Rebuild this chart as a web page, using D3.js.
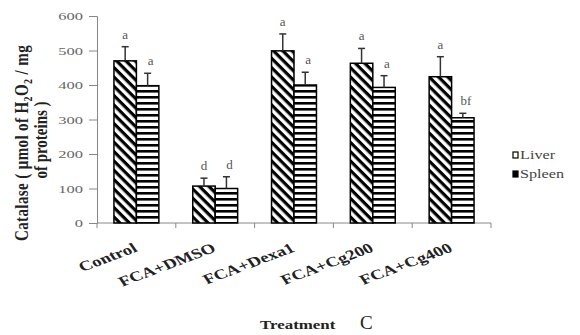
<!DOCTYPE html>
<html>
<head>
<meta charset="utf-8">
<script src="https://cdn.jsdelivr.net/npm/d3@7"></script>
<style>
  html, body { margin: 0; padding: 0; background: #fff; }
  svg { display: block; }
  text { font-family: "Liberation Serif", "Times New Roman", serif; }
</style>
</head>
<body>
<svg id="chart" width="580" height="335"></svg>
<script>
// values
const treatments = ["Control", "FCA+DMSO", "FCA+Dexa1", "FCA+Cg200", "FCA+Cg400"];
const organs = ["Liver", "Spleen"];
const liver = [470, 107, 499, 463, 424];
const spleen = [398, 100, 400, 393, 305];
const liverErr = [41, 23, 49, 43, 58];
const spleenErr = [36, 34, 37, 34, 13];
const liverLetters = ["a", "d", "a", "a", "a"];
const spleenLetters = ["a", "d", "a", "a", "bf"];
const yTicks = [0, 100, 200, 300, 400, 500, 600];

const svg = d3.select("svg#chart");
const margin = { left: 97, right: 89, top: 16, bottom: 112 };
const width = 580, height = 335;

const x0 = d3.scaleBand()
  .domain(treatments)
  .range([margin.left, width - margin.right])
  .paddingInner(0.43)
  .paddingOuter(0.215);
const x1 = d3.scaleBand().domain(organs).range([0, x0.bandwidth()]);
const y = d3.scaleLinear().domain([0, 600]).range([height - margin.bottom, margin.top]);

// patterns: diagonal for liver, horizontal for spleen
const defs = svg.append("defs");
defs.append("pattern")
  .attr("id", "pat-liver")
  .attr("patternUnits", "userSpaceOnUse")
  .attr("width", 6.6).attr("height", 6.6)
  .attr("patternTransform", "rotate(45)")
  .call((p) => {
    p.append("rect").attr("width", 6.6).attr("height", 6.6).attr("fill", "#fff");
    p.append("rect").attr("width", 6.6).attr("height", 3.2).attr("fill", "#000");
  });
defs.append("pattern")
  .attr("id", "pat-spleen")
  .attr("patternUnits", "userSpaceOnUse")
  .attr("width", 6).attr("height", 6)
  .call((p) => {
    p.append("rect").attr("width", 6).attr("height", 6).attr("fill", "#fff");
    p.append("rect").attr("width", 6).attr("height", 2.6).attr("fill", "#000");
  });

const rows = treatments.map((t, i) => ({
  treatment: t,
  bars: [
    { organ: "Liver", value: liver[i], err: liverErr[i], letter: liverLetters[i] },
    { organ: "Spleen", value: spleen[i], err: spleenErr[i], letter: spleenLetters[i] },
  ],
}));

// y axis
const yAxis = svg.append("g")
  .attr("transform", `translate(${margin.left},0)`)
  .call(d3.axisLeft(y).tickValues(yTicks).tickSize(8).tickPadding(6));
yAxis.select(".domain").attr("stroke", "#888");
yAxis.selectAll(".tick line").attr("stroke", "#888");
yAxis.selectAll(".tick text")
  .attr("fill", "#666")
  .attr("font-size", 11)
  .attr("font-family", "Liberation Serif")
  .attr("transform", "scale(1.5,1)")
  .attr("x", -14 / 1.5);

// x axis with ticks between categories
const xAxis = svg.append("g").attr("transform", `translate(0,${y(0)})`);
xAxis.append("line")
  .attr("x1", margin.left).attr("x2", width - margin.right)
  .attr("stroke", "#888");
xAxis.selectAll("line.tk")
  .data(d3.range(treatments.length + 1))
  .join("line")
  .attr("class", "tk")
  .attr("x1", (i) => margin.left + x0.step() * i)
  .attr("x2", (i) => margin.left + x0.step() * i)
  .attr("y2", 5)
  .attr("stroke", "#888");
xAxis.selectAll("text")
  .data(treatments)
  .join("text")
  .attr("text-anchor", "end")
  .attr("font-size", 14)
  .attr("font-weight", "bold")
  .attr("fill", "#222")
  .attr("transform", (d) => `translate(${x0(d) + x0.bandwidth() / 2 + 2},28) scale(1.35,1) rotate(-27)`)
  .text((d) => d);

// bars
const group = svg.append("g").selectAll("g")
  .data(rows)
  .join("g")
  .attr("transform", (d) => `translate(${x0(d.treatment)},0)`);

group.selectAll("rect")
  .data((d) => d.bars)
  .join("rect")
  .attr("x", (d) => x1(d.organ))
  .attr("y", (d) => y(d.value))
  .attr("width", x1.bandwidth())
  .attr("height", (d) => y(0) - y(d.value))
  .attr("fill", (d) => (d.organ === "Liver" ? "url(#pat-liver)" : "url(#pat-spleen)"))
  .attr("stroke", "#000")
  .attr("stroke-width", 1.5);

// error bars (upper only)
const err = group.selectAll("g.err")
  .data((d) => d.bars)
  .join("g")
  .attr("class", "err")
  .attr("stroke", "#333")
  .attr("stroke-width", 1.5);
err.append("line")
  .attr("x1", (d) => x1(d.organ) + x1.bandwidth() / 2)
  .attr("x2", (d) => x1(d.organ) + x1.bandwidth() / 2)
  .attr("y1", (d) => y(d.value))
  .attr("y2", (d) => y(d.value + d.err));
err.append("line")
  .attr("x1", (d) => x1(d.organ) + x1.bandwidth() / 2 - 3.5)
  .attr("x2", (d) => x1(d.organ) + x1.bandwidth() / 2 + 3.5)
  .attr("y1", (d) => y(d.value + d.err))
  .attr("y2", (d) => y(d.value + d.err));

// significance letters
group.selectAll("text.letter")
  .data((d) => d.bars)
  .join("text")
  .attr("class", "letter")
  .attr("text-anchor", "middle")
  .attr("font-size", 13)
  .attr("fill", "#555")
  .attr("x", (d) => x1(d.organ) + x1.bandwidth() / 2 + (d.organ === "Spleen" ? 3 : 0))
  .attr("y", (d) => y(d.value + d.err) - 8)
  .text((d) => d.letter);

// y axis title
const yTitle = svg.append("text")
  .attr("transform", "translate(28,143) scale(1.2,1) rotate(-90)")
  .attr("text-anchor", "middle")
  .attr("font-size", 15)
  .attr("font-weight", "bold")
  .attr("letter-spacing", 0.4)
  .attr("fill", "#222");
yTitle.append("tspan").text("Catalase ( μmol of H");
yTitle.append("tspan").attr("font-size", 10).attr("dy", 3).text("2");
yTitle.append("tspan").attr("dy", -3).text("O");
yTitle.append("tspan").attr("font-size", 10).attr("dy", 3).text("2");
yTitle.append("tspan").attr("dy", -3).text(" / mg");
svg.append("text")
  .attr("transform", "translate(47,140) scale(1.2,1) rotate(-90)")
  .attr("text-anchor", "middle")
  .attr("font-size", 15)
  .attr("font-weight", "bold")
  .attr("fill", "#222")
  .text("of proteins )");

// x axis title
svg.append("text")
  .attr("transform", "translate(260,329) scale(1.3,1)")
  .attr("font-size", 13)
  .attr("font-weight", "bold")
  .attr("fill", "#222")
  .text("Treatment");
svg.append("text")
  .attr("x", 360).attr("y", 329)
  .attr("font-size", 19)
  .attr("fill", "#222")
  .text("C");

// legend
const legend = svg.append("g")
  .selectAll("g")
  .data(organs)
  .join("g")
  .attr("transform", (d, i) => `translate(513,${152 + i * 19})`);
legend.append("rect")
  .attr("width", 5).attr("height", 6)
  .attr("fill", (d) => (d === "Liver" ? "#fff" : "#000"))
  .attr("stroke", "#000")
  .attr("stroke-width", 1.2);
legend.append("text")
  .attr("transform", "translate(7,6.5) scale(1.35,1)")
  .attr("font-size", 12)
  .attr("fill", "#444")
  .text((d) => d);
</script>
</body>
</html>
